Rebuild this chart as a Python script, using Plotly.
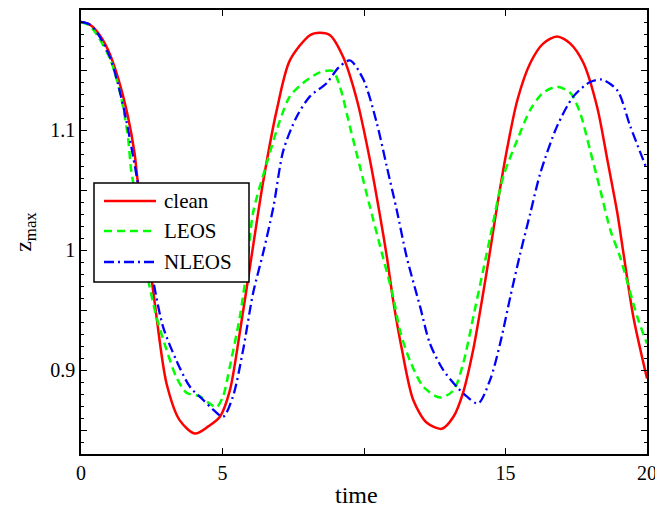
import plotly.graph_objects as go

clean_t = [0, 0.3, 0.6, 0.95, 1.3, 1.66, 1.89, 2.0, 2.5, 2.67, 3.02, 3.49, 4.03, 4.5, 4.91, 5.26, 5.61, 5.97, 6.43, 6.92, 7.38, 8.09, 8.44, 8.8, 9.26, 9.75, 10.21, 10.57, 10.81, 11.03, 11.34, 11.74, 12.22, 12.75, 13.16, 13.5, 13.86, 14.21, 14.46, 14.7, 15.07, 15.42, 15.88, 16.33, 16.82, 17.29, 17.75, 18.24, 18.6, 18.95, 19.17, 19.52, 20.0]
clean_z = [1.19, 1.188, 1.181, 1.167, 1.144, 1.111, 1.081, 1.058, 0.975, 0.944, 0.889, 0.858, 0.847, 0.853, 0.861, 0.883, 0.931, 0.986, 1.056, 1.117, 1.158, 1.179, 1.181, 1.179, 1.161, 1.125, 1.075, 1.028, 0.994, 0.958, 0.917, 0.875, 0.856, 0.851, 0.861, 0.881, 0.917, 0.964, 1.0, 1.036, 1.086, 1.125, 1.156, 1.172, 1.178, 1.172, 1.156, 1.119, 1.075, 1.031, 0.997, 0.944, 0.893]

leos_t = [0, 0.3, 0.6, 1.05, 1.41, 1.66, 1.77, 2.0, 2.31, 2.67, 3.02, 3.37, 3.73, 4.2, 4.55, 4.79, 5.02, 5.26, 5.61, 5.85, 6.08, 6.56, 7.03, 7.38, 7.84, 8.44, 8.9, 9.15, 9.5, 9.86, 10.21, 10.67, 11.03, 11.27, 11.62, 12.1, 12.69, 13.16, 13.51, 13.86, 14.21, 14.46, 14.92, 15.42, 15.88, 16.33, 16.82, 17.29, 17.64, 17.99, 18.35, 18.7, 19.05, 19.66, 20.0]
leos_z = [1.19, 1.187, 1.178, 1.158, 1.128, 1.094, 1.067, 1.035, 0.983, 0.944, 0.917, 0.894, 0.881, 0.878, 0.872, 0.869, 0.878, 0.903, 0.944, 0.983, 1.031, 1.072, 1.108, 1.128, 1.139, 1.148, 1.149, 1.136, 1.103, 1.069, 1.036, 0.994, 0.961, 0.933, 0.908, 0.886, 0.877, 0.883, 0.906, 0.944, 0.983, 1.011, 1.061, 1.092, 1.117, 1.131, 1.136, 1.131, 1.114, 1.083, 1.05, 1.017, 0.994, 0.944, 0.922]

nleos_t = [0, 0.3, 0.6, 1.0, 1.3, 1.6, 1.84, 2.2, 2.55, 2.9, 3.37, 3.85, 4.32, 4.67, 5.02, 5.37, 5.73, 6.08, 6.43, 6.8, 7.15, 7.62, 8.09, 8.68, 9.1, 9.5, 9.98, 10.45, 10.81, 11.16, 11.51, 11.98, 12.33, 12.8, 13.28, 13.63, 14.03, 14.46, 14.81, 15.17, 15.52, 15.88, 16.23, 16.82, 17.4, 17.99, 18.41, 18.95, 19.41, 20.0]
nleos_z = [1.19, 1.188, 1.18, 1.162, 1.139, 1.108, 1.078, 1.03, 0.975, 0.936, 0.908, 0.886, 0.875, 0.867, 0.861, 0.878, 0.917, 0.964, 0.997, 1.036, 1.083, 1.111, 1.128, 1.139, 1.152, 1.158, 1.142, 1.106, 1.069, 1.033, 0.994, 0.953, 0.922, 0.9, 0.886, 0.878, 0.872, 0.892, 0.922, 0.961, 0.997, 1.031, 1.064, 1.103, 1.128, 1.14, 1.142, 1.133, 1.103, 1.067]

x_ticks = [0, 5, 10, 15, 20]
x_ticktext = ["0", "5", "", "15", "20"]
y_ticks = [0.85, 0.9, 0.95, 1.0, 1.05, 1.1, 1.15]
y_ticktext = ["", "0.9", "", "1", "", "1.1", ""]
series_names = ["clean", "LEOS", "NLEOS"]
series_colors = ["#ff0000", "#00ff00", "#0000ff"]
series_dash = ["solid", "8px,5px", "10px,4px,2px,4px"]
series_width = [2.5, 2.5, 2.3]

font = "Liberation Serif"
W, H = 655, 508
ML, MR, MT, MB = 81, 8, 10, 54
PW, PH = W - ML - MR, H - MT - MB

fig = go.Figure()
for t, z, n, c, d, w in zip([clean_t, leos_t, nleos_t], [clean_z, leos_z, nleos_z],
                            series_names, series_colors, series_dash, series_width):
    fig.add_trace(go.Scatter(x=t, y=z, mode="lines", name=n, showlegend=False,
                             line=dict(color=c, width=w, dash=d, shape="spline", smoothing=0.8)))

def px2paper(px, py):
    return (px - ML) / PW, (H - MB - py) / PH

# manual legend (box, line samples, labels)
x0, y0 = px2paper(94, 183)
x1, y1 = px2paper(249, 282)
fig.add_shape(type="rect", xref="paper", yref="paper", x0=x0, y0=y1, x1=x1, y1=y0,
              line=dict(color="black", width=1.5), fillcolor="white", layer="above")
row_y = [201, 231, 262]
for n, c, d, w, ry in zip(series_names, series_colors, series_dash, series_width, row_y):
    lx0, ly = px2paper(104, ry)
    lx1, _ = px2paper(156, ry)
    fig.add_shape(type="line", xref="paper", yref="paper", x0=lx0, y0=ly, x1=lx1, y1=ly,
                  line=dict(color=c, width=w, dash=d), layer="above")
    tx, _ = px2paper(162, ry)
    fig.add_annotation(xref="paper", yref="paper", x=tx, y=ly, text=n, showarrow=False,
                       xanchor="left", yanchor="middle",
                       font=dict(family=font, size=21, color="black"))

# x-axis title, placed slightly left of centre as in the reference
tx, ty = px2paper(356, 495)
fig.add_annotation(xref="paper", yref="paper", x=tx, y=ty, text="time", showarrow=False,
                   xanchor="center", yanchor="middle",
                   font=dict(family=font, size=24, color="black"))

axis_common = dict(showgrid=False, zeroline=False, showline=True, linecolor="black", linewidth=1.5,
                   mirror="ticks", ticks="inside", tickcolor="black", ticklen=6, tickwidth=1,
                   automargin=False, ticklabeloverflow="allow",
                   tickfont=dict(family=font, size=20, color="black"))
fig.update_xaxes(range=[0, 20], tickvals=x_ticks, ticktext=x_ticktext, **axis_common)
fig.update_yaxes(range=[0.83, 1.2], tickvals=y_ticks, ticktext=y_ticktext,
                 minor=dict(dtick=0.01, tick0=0.8, ticks="inside", ticklen=3, tickcolor="black", tickwidth=1),
                 title=dict(text="z<sub>max</sub>", font=dict(family=font, size=24, color="black"), standoff=12),
                 **axis_common)
fig.update_layout(width=W, height=H, margin=dict(l=ML, r=MR, t=MT, b=MB),
                  paper_bgcolor="white", plot_bgcolor="white", showlegend=False,
                  font=dict(family=font, size=20, color="black"))
fig.write_html("out.html")
